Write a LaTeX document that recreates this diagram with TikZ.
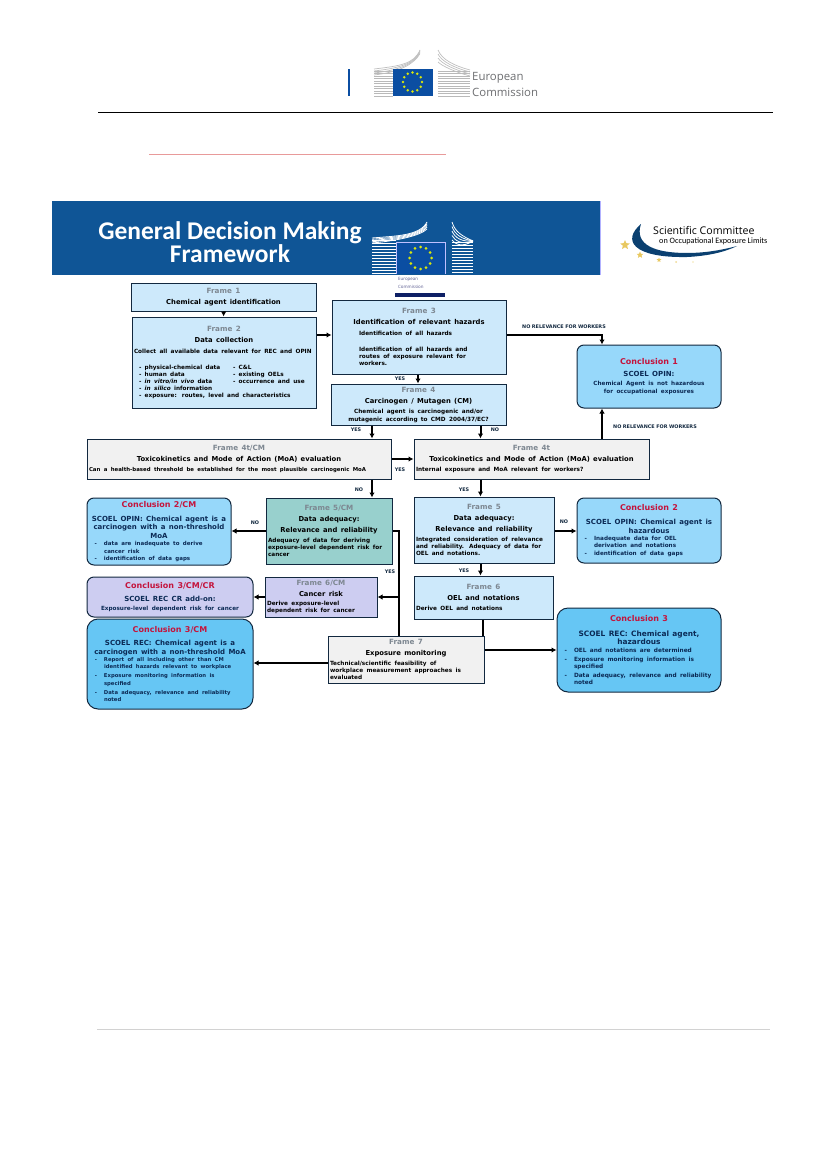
\documentclass[tikz,border=0pt]{standalone}
\usepackage{fontspec}
\setmainfont[WordSpace=0.85]{DejaVu Sans}
\newfontfamily\logofont{Open Sans}
\newfontfamily\bannerfont{Carlito}
\usepackage{xcolor}
\usetikzlibrary{positioning, arrows.meta, shapes.geometric}
\definecolor{framebg}{HTML}{CDE9FB}
\definecolor{concbg}{HTML}{97D8FA}
\definecolor{concdeep}{HTML}{66C6F4}
\definecolor{greybg}{HTML}{F1F1F1}
\definecolor{tealbg}{HTML}{98D0CD}
\definecolor{lilacbg}{HTML}{CDCDF1}
\definecolor{euroblue}{HTML}{0F5596}
\definecolor{flagblue}{HTML}{0B4EA2}
\definecolor{edgedark}{HTML}{12283F}
\definecolor{titlegrey}{HTML}{7D8791}
\definecolor{concred}{HTML}{C4143C}
\definecolor{navytext}{HTML}{0B2A55}
\definecolor{logogrey}{HTML}{6D6E71}
\definecolor{starpale}{HTML}{E8C860}
\definecolor{rulepink}{HTML}{E89A9A}
\newcommand{\ftitle}[1]{{\centering\color{titlegrey}\fontsize{7.2pt}{9pt}\selectfont #1\par}}
\newcommand{\fsub}[1]{{\centering\fontsize{6.8pt}{11pt}\selectfont #1\par}}
\newcommand{\fbody}[2][5.75pt]{{\raggedright\fontsize{#1}{7.2pt}\selectfont #2\par}}
\newcommand{\fmid}[1]{{\centering\fontsize{5.75pt}{8pt}\selectfont #1\par}}
\newcommand{\ctitle}[1]{{\centering\color{concred}\fontsize{8pt}{10pt}\selectfont #1\par}}
\newcommand{\csub}[2][7pt]{{\centering\color{navytext}\fontsize{#1}{8.7pt}\selectfont #2\par}}
\newcommand{\cmid}[1]{{\centering\color{navytext}\fontsize{5.7pt}{8.5pt}\selectfont #1\par}}
\newcommand{\cbul}[2][5.5pt]{{\raggedright\leftskip=15pt\color{navytext}\fontsize{#1}{7.4pt}\selectfont\leavevmode\llap{-\hspace{7pt}}#2\par}}
\newcommand{\lcol}[1]{\makebox[94pt][l]{#1}}
\begin{document}
\begin{tikzpicture}[
  x=1pt, y=-1pt,
  framebox/.style={draw=edgedark, line width=1pt, fill=framebg, inner sep=2pt, font=\bfseries},
  concbox/.style={framebox, rounded corners=7pt, fill=concbg},
  arr/.style={-{Latex[length=5pt,width=5.5pt]}, line width=1.2pt, draw=black},
  thickarr/.style={arr, line width=2pt},
  plain/.style={line width=1.3pt, draw=black},
  lab/.style={font=\bfseries\fontsize{4.9pt}{6pt}\selectfont, inner sep=0pt, text=edgedark},
  stripe/.style={line width=0.9pt}
]
\useasboundingbox (0,0) rectangle (827,1169);

% page furniture
\draw[draw=black, line width=0.8pt] (98,112) -- (773,112);
\draw[draw=rulepink, line width=1pt] (149,155) -- (446,155);
\draw[draw=gray!35, line width=0.8pt] (97,1029) -- (770,1029);

% header logo
\fill[flagblue] (348,69) rectangle (349.6,96);
\foreach \yy in {71,73.5,...,96} {
  \draw[gray!55, stripe] (374,\yy) -- (393,\yy);
  \draw[gray!55, stripe] (438,\yy) -- (470,\yy);
}
\foreach \bend in {0,2,4,6} {
  \draw[gray!50, line width=0.7pt] (374,69+\bend) .. controls (400,66+\bend) and (414,64) .. (420,50+\bend*0.6);
  \draw[gray!50, line width=0.7pt] (438,50+\bend*2) .. controls (442,60+\bend) and (455,66+\bend) .. (470,70+\bend);
}
\fill[flagblue] (393,69) rectangle (432.5,96);
\foreach \ang in {0,30,...,330}
  \fill[yellow!85!green] (412.5,82) ++(\ang:9.5) circle (1.3);
\node[font=\logofont\fontsize{11.4pt}{12pt}\selectfont, text=logogrey, anchor=west, inner sep=0pt] (headeuro) at (472,78) {European};
\node[font=\logofont\fontsize{11.4pt}{12pt}\selectfont, text=logogrey, anchor=west, inner sep=0pt] (headcomm) at (472,92) {Commission};

% banner
\fill[euroblue] (52,201) rectangle (600,275);
\fill[blue!30!white] (600,201) rectangle (601,275);
\foreach \yy in {240,243,...,273}
  \draw[white, stripe] (372,\yy) -- (396,\yy);
\foreach \bend in {0,2.5,5,7.5,10} {
  \draw[white, line width=0.8pt] (372,238+\bend*0.5) .. controls (395,236+\bend*0.5) and (420,236) .. (427,222+\bend*0.7);
}
\foreach \yy in {242,245,...,273}
  \draw[white, stripe] (452,\yy) -- (473,\yy);
\foreach \bend in {0,3,6,9,12} {
  \draw[white, line width=0.8pt] (452,222+\bend*1.5) .. controls (455,232+\bend) and (462,236+\bend) .. (473,241);
}
\draw[blue!25!white, fill=flagblue, line width=0.4pt] (396,242) rectangle (445,275);
\foreach \ang in {0,30,...,330}
  \fill[yellow!85!green] (420.5,258) ++(\ang:11) circle (1.5);
\fill[white] (372,275) rectangle (470,300);
\fill[euroblue] (52,274) rectangle (600,275.2);
\node[font=\bannerfont\bfseries\fontsize{25.5pt}{22pt}\selectfont, text=white, align=center, inner sep=0pt] (bannertitle) at (230,242) {General Decision Making\\Framework};
\node[font=\logofont\fontsize{4.4pt}{8pt}\selectfont, text=logogrey!80!blue, align=left, anchor=north west, inner sep=0pt] (bannerlogo) at (398,277) {European\\Commission};
\fill[edgedark!80!blue] (395,293) rectangle (445,297);

% committee logo
\fill[euroblue!75!black] (641,224) .. controls (622,240) and (632,258) .. (687,257) .. controls (708,256) and (725,252) .. (737,246) .. controls (722,250) and (705,253) .. (687,253) .. controls (655,253) and (634,245) .. (641,224) -- cycle;
\node[star, star points=5, star point ratio=2.2, fill=starpale, inner sep=0pt, minimum size=10pt] (starone) at (625,245) {};
\node[star, star points=5, star point ratio=2.2, fill=starpale, inner sep=0pt, minimum size=7pt] (startwo) at (640,255) {};
\node[star, star points=5, star point ratio=2.2, fill=starpale, inner sep=0pt, minimum size=5pt] (starthree) at (659,260) {};
\node[circle, fill=starpale!70, inner sep=0pt, minimum size=2pt] (starfour) at (676,262) {};
\node[circle, fill=starpale!50, inner sep=0pt, minimum size=1.6pt] (starfive) at (693,262) {};
\node[font=\logofont\fontsize{10.6pt}{11pt}\selectfont, text=black, anchor=west, inner sep=0pt] (committee) at (653,230) {Scientific Committee};
\node[font=\bannerfont\fontsize{8.2pt}{9pt}\selectfont, text=black, anchor=west, inner sep=0pt] (committeesub) at (659,241) {on Occupational Exposure Limits};

% frames
\node[framebox, text width=181pt, minimum height=28pt] (frameone) at (223.5,297) {\ftitle{Frame 1}\fsub{Chemical agent identification}};
\node[framebox, text width=180pt, minimum height=91pt] (frametwo) at (224,362.5) {\ftitle{Frame 2}\fsub{Data collection}\vspace{4.5pt}\fbody{Collect all available data relevant for REC and OPIN}\vspace{8pt}\fbody{\hspace*{5pt}\lcol{- physical-chemical data}- C\&L\\\hspace*{5pt}\lcol{- human data}- existing OELs\\\hspace*{5pt}\lcol{- \textit{in vitro/in vivo} data}- occurrence and use\\\hspace*{5pt}- \textit{in silico} information\\\hspace*{5pt}- exposure: routes, level and characteristics}\vspace{8pt}};
\node[framebox, text width=170pt, minimum height=74pt] (framethree) at (419,337) {\ftitle{Frame 3}\fsub{Identification of relevant hazards}\vspace{4pt}\fbody{\hspace*{25pt}Identification of all hazards}\vspace{8pt}\fbody{\hspace*{25pt}Identification of all hazards and\\\hspace*{25pt}routes of exposure relevant for\\\hspace*{25pt}workers.}\vspace{14pt}};
\node[framebox, text width=171pt, minimum height=41pt] (framefour) at (418.5,404.5) {\ftitle{Frame 4}\fsub{Carcinogen / Mutagen (CM)}\vspace{2pt}\fmid{Chemical agent is carcinogenic and/or\\mutagenic according to CMD 2004/37/EC?}};
\node[framebox, fill=greybg, text width=300pt, minimum height=40pt] (framecm) at (239,459) {\ftitle{Frame 4t/CM}\fsub{Toxicokinetics and Mode of Action (MoA) evaluation}\vspace{3pt}\fbody[5.4pt]{Can a health-based threshold be established for the most plausible carcinogenic MoA}\vspace{4pt}};
\node[framebox, fill=greybg, text width=231pt, minimum height=40pt] (frametox) at (531.5,459) {\ftitle{Frame 4t}\fsub{Toxicokinetics and Mode of Action (MoA) evaluation}\vspace{3pt}\fbody{Internal exposure and MoA relevant for workers?}\vspace{4pt}};
\node[framebox, fill=tealbg, text width=122pt, minimum height=66pt] (framedatacm) at (329,531) {\ftitle{Frame 5/CM}\fsub{Data adequacy:\\Relevance and reliability}\vspace{3pt}\fbody{Adequacy of data for deriving\\exposure-level dependent risk for\\cancer}\vspace{12pt}};
\node[framebox, text width=136pt, minimum height=66pt] (framedata) at (484,530) {\ftitle{Frame 5}\fsub{Data adequacy:\\Relevance and reliability}\vspace{3pt}\fbody{Integrated consideration of relevance\\and reliability. Adequacy of data for\\OEL and notations.}\vspace{17pt}};
\node[framebox, fill=lilacbg, text width=108pt, minimum height=40pt] (framecancer) at (321,597) {\ftitle{Frame 6/CM}\fsub{Cancer risk}\vspace{1.5pt}\fbody{Derive exposure-level\\dependent risk for cancer}};
\node[framebox, text width=135pt, minimum height=43pt] (frameoel) at (483.5,597.5) {\ftitle{Frame 6}\fsub{OEL and notations}\vspace{3pt}\fbody{Derive OEL and notations}\vspace{16pt}};
\node[framebox, fill=greybg, text width=152pt, minimum height=47pt] (framemon) at (406,659.5) {\ftitle{Frame 7}\fsub{Exposure monitoring}\vspace{3pt}\fbody{Technical/scientific feasibility of\\workplace measurement approaches is\\evaluated}};

% conclusions
\node[concbox, text width=140pt, minimum height=63pt] (concone) at (649,376.5) {\ctitle{Conclusion 1}\vspace{4pt}\csub{SCOEL OPIN:}\cmid{Chemical Agent is not hazardous\\for occupational exposures}};
\node[concbox, text width=140pt, minimum height=67pt] (conctwocm) at (159,531.5) {\ctitle{Conclusion 2/CM}\vspace{5pt}\csub{SCOEL OPIN: Chemical agent is a\\carcinogen with a non-threshold\\MoA}\cbul{data are inadequate to derive\\cancer risk}\cbul{identification of data gaps}};
\node[concbox, fill=lilacbg, text width=162pt, minimum height=40pt] (concthreecr) at (170,597) {\ctitle{Conclusion 3/CM/CR}\vspace{4pt}\csub{SCOEL REC CR add-on:}\cmid{Exposure-level dependent risk for cancer}};
\node[concbox, fill=concdeep, rounded corners=11pt, text width=162pt, minimum height=90pt] (concthreecm) at (170,664) {\ctitle{Conclusion 3/CM}\vspace{4pt}\csub{SCOEL REC: Chemical agent is a\\carcinogen with a non-threshold MoA}\cbul[5.3pt]{Report of all including other than CM\\identified hazards relevant to workplace}\vspace{1.5pt}\cbul[5.3pt]{Exposure monitoring information is\\specified}\vspace{1.5pt}\cbul[5.3pt]{Data adequacy, relevance and reliability\\noted}};
\node[concbox, text width=140pt, minimum height=65pt] (conctwo) at (649,530.5) {\ctitle{Conclusion 2}\vspace{5pt}\csub{SCOEL OPIN: Chemical agent is\\hazardous}\cbul[5.7pt]{Inadequate data for OEL\\derivation and notations}\cbul[5.7pt]{identification of data gaps}};
\node[concbox, fill=concdeep, rounded corners=11pt, text width=160pt, minimum height=84pt] (concthree) at (639,650) {\ctitle{Conclusion 3}\vspace{6pt}\csub[7.4pt]{SCOEL REC: Chemical agent,\\hazardous}\cbul[5.8pt]{OEL and notations are determined}\vspace{1.5pt}\cbul[5.8pt]{Exposure monitoring information is\\specified}\vspace{1.5pt}\cbul[5.8pt]{Data adequacy, relevance and reliability\\noted}};

% where the connectors run
\coordinate (runone) at (372,0);
\coordinate (runtwo) at (480.5,0);
\coordinate (runthree) at (602,0);
\coordinate (runfour) at (418,0);
\coordinate (runfive) at (399,0);
\coordinate (runsix) at (483,0);
\coordinate (levelone) at (0,335);
\coordinate (levelfive) at (0,531);
\coordinate (levelseven) at (0,650);
\coordinate (leveleight) at (0,663);

\draw[arr] (frameone) -- (frametwo);
\draw[arr] (frametwo.east |- levelone) -- (framethree.west |- levelone);
\draw[arr] (framethree.south -| runfour) -- (framefour.north -| runfour);
\draw[arr] (framethree.east |- levelone) -| (concone.north -| runthree);
\draw[arr] (framefour.south -| runone) -- (framecm.north -| runone);
\draw[thickarr] (framefour.south -| runtwo) -- (frametox.north -| runtwo);
\draw[arr] (framecm) -- (frametox);
\draw[arr] (frametox.north -| runthree) -- (concone.south -| runthree);
\draw[arr] (framecm.south -| runone) -- (framedatacm.north -| runone);
\draw[thickarr] (frametox.south -| runtwo) -- (framedata.north -| runtwo);
\draw[thickarr] (framedatacm.west |- levelfive) -- (conctwocm.east |- levelfive);
\draw[thickarr] (framedata.east |- levelfive) -- (conctwo.west |- levelfive);
\draw[thickarr] (framedata.south -| runtwo) -- (frameoel.north -| runtwo);
\draw[arr] (framecancer) -- (concthreecr);
\draw[plain] (framedatacm.east |- levelfive) -| (framemon.north -| runfive);
\draw[arr] (framemon.north -| runfive) |- (framecancer.east);
\draw[plain] (frameoel.south -| runsix) -- (framemon.north -| runsix);
\draw[thickarr] (framemon.east |- levelseven) -- (concthree.west |- levelseven);
\draw[arr] (framemon.west |- leveleight) -- (concthreecm.east |- leveleight);

% connector labels
\node[lab] (yesone) at (400,379) {YES};
\node[lab] (nowork) at (564,327) {NO RELEVANCE FOR WORKERS};
\node[lab] (yestwo) at (356,430) {YES};
\node[lab] (noone) at (495,430) {NO};
\node[lab] (yesthree) at (400,470) {YES};
\node[lab] (noworktwo) at (655,427) {NO RELEVANCE FOR WORKERS};
\node[lab] (notwo) at (359,490) {NO};
\node[lab] (yesfour) at (464,490) {YES};
\node[lab] (nothree) at (255,523) {NO};
\node[lab] (nofour) at (564,522) {NO};
\node[lab] (yesfive) at (390,572) {YES};
\node[lab] (yessix) at (464,571) {YES};
\end{tikzpicture}
\end{document}
